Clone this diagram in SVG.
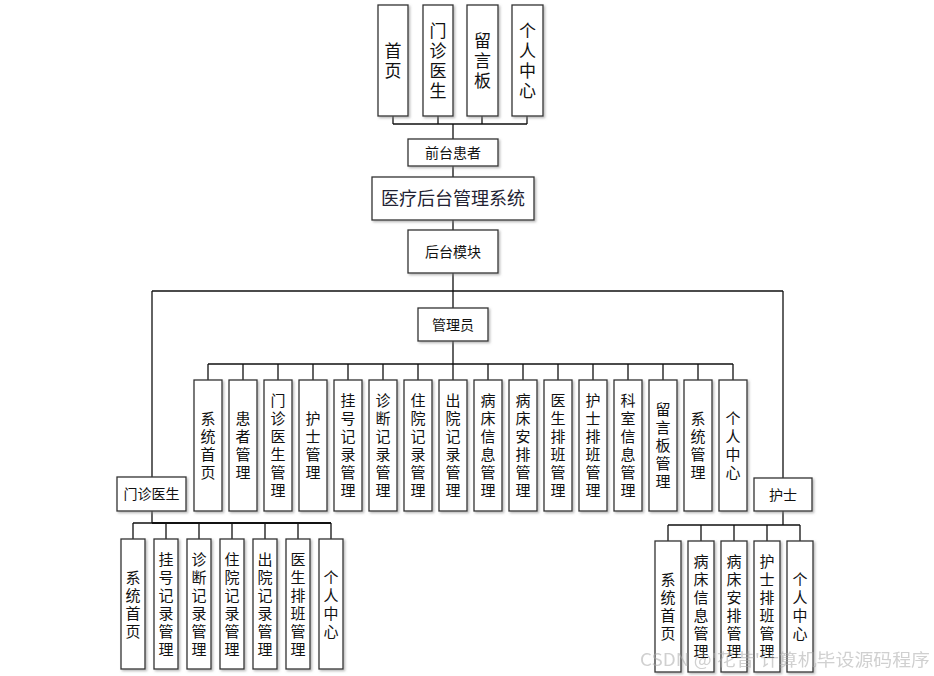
<svg xmlns="http://www.w3.org/2000/svg" width="934" height="676" viewBox="0 0 934 676">
<defs>
<filter id="sh" x="-20%" y="-20%" width="140%" height="140%">
<feDropShadow dx="1.5" dy="1.5" stdDeviation="0.8" flood-color="#888" flood-opacity="0.6"/>
</filter>
</defs>
<style>
.b{fill:#fff;stroke:#333;stroke-width:1.3;filter:url(#sh)}
.t{font-family:"Noto Sans CJK SC","Noto Sans",sans-serif;fill:#111;text-anchor:middle}
.v{font-size:15px;writing-mode:vertical-rl;text-orientation:upright;letter-spacing:3px}
.tv{font-size:17px;writing-mode:vertical-rl;text-orientation:upright;letter-spacing:3px}
.h{font-size:14px}
.c{fill:none;stroke:#111;stroke-width:1.3}
.wm{font-family:"Noto Sans CJK SC","Noto Sans",sans-serif;font-size:17px;fill:#aaa;opacity:0.55}
</style>
<rect width="934" height="676" fill="#fff"/>
<g id="connectors" class="c">
<path d="M393 116V124M438 116V124M482 116V124M527 116V124M393 124H527M453 124V139"/>
<path d="M453 166V177M453 220V230M453 273V308M152 291H783"/>
<path d="M453 341V364M208 364H733"/>
<path d="M208 364V380M243 364V380M278 364V380M313 364V380M348 364V380M383 364V380M418 364V380M453 364V380M488 364V380M523 364V380M558 364V380M593 364V380M628 364V380M663 364V380M698 364V380M733 364V380"/>
<path d="M152 291V477M152 511V523M133 523H331M133 523V539M166 523V539M199 523V539M232 523V539M265 523V539M298 523V539M331 523V539"/>
<path d="M152 523H331" stroke-width="2.2"/>
<path d="M783 291V478M783 511V525M668 525H800M668 525V541M701 525V541M734 525V541M767 525V541M800 525V541"/>
</g>
<g id="n-home"><rect class="b" x="378" y="5" width="30" height="111"/><text class="t tv" x="393" y="62">首页</text></g>
<g id="n-doctor-top"><rect class="b" x="423" y="5" width="30" height="111"/><text class="t tv" x="438" y="62">门诊医生</text></g>
<g id="n-board"><rect class="b" x="467" y="5" width="31" height="111"/><text class="t tv" x="482.5" y="62">留言板</text></g>
<g id="n-center"><rect class="b" x="512" y="5" width="31" height="111"/><text class="t tv" x="527.5" y="62">个人中心</text></g>
<g id="n-front"><rect class="b" x="408" y="139" width="90" height="27"/><text class="t h" x="453" y="158">前台患者</text></g>
<g id="n-system"><rect class="b" x="372" y="177" width="162" height="43"/><text class="t" style="font-size:18px;fill:#223" x="453" y="205">医疗后台管理系统</text></g>
<g id="n-backend"><rect class="b" x="408" y="230" width="90" height="43"/><text class="t h" x="453" y="257">后台模块</text></g>
<g id="n-admin"><rect class="b" x="418" y="308" width="70" height="33"/><text class="t h" x="453" y="330">管理员</text></g>
<g id="a1"><rect class="b" x="194" y="380" width="28" height="131"/><text class="t v" x="208" y="447">系统首页</text></g>
<g id="a2"><rect class="b" x="229" y="380" width="28" height="131"/><text class="t v" x="243" y="447">患者管理</text></g>
<g id="a3"><rect class="b" x="264" y="380" width="28" height="131"/><text class="t v" x="278" y="447">门诊医生管理</text></g>
<g id="a4"><rect class="b" x="299" y="380" width="28" height="131"/><text class="t v" x="313" y="447">护士管理</text></g>
<g id="a5"><rect class="b" x="334" y="380" width="28" height="131"/><text class="t v" x="348" y="447">挂号记录管理</text></g>
<g id="a6"><rect class="b" x="369" y="380" width="28" height="131"/><text class="t v" x="383" y="447">诊断记录管理</text></g>
<g id="a7"><rect class="b" x="404" y="380" width="28" height="131"/><text class="t v" x="418" y="447">住院记录管理</text></g>
<g id="a8"><rect class="b" x="439" y="380" width="28" height="131"/><text class="t v" x="453" y="447">出院记录管理</text></g>
<g id="a9"><rect class="b" x="474" y="380" width="28" height="131"/><text class="t v" x="488" y="447">病床信息管理</text></g>
<g id="a10"><rect class="b" x="509" y="380" width="28" height="131"/><text class="t v" x="523" y="447">病床安排管理</text></g>
<g id="a11"><rect class="b" x="544" y="380" width="28" height="131"/><text class="t v" x="558" y="447">医生排班管理</text></g>
<g id="a12"><rect class="b" x="579" y="380" width="28" height="131"/><text class="t v" x="593" y="447">护士排班管理</text></g>
<g id="a13"><rect class="b" x="614" y="380" width="28" height="131"/><text class="t v" x="628" y="447">科室信息管理</text></g>
<g id="a14"><rect class="b" x="649" y="380" width="28" height="131"/><text class="t v" x="663" y="447">留言板管理</text></g>
<g id="a15"><rect class="b" x="684" y="380" width="28" height="131"/><text class="t v" x="698" y="447">系统管理</text></g>
<g id="a16"><rect class="b" x="719" y="380" width="28" height="131"/><text class="t v" x="733" y="447">个人中心</text></g>
<g id="n-doctor"><rect class="b" x="117" y="477" width="69" height="34"/><text class="t h" x="151.5" y="499">门诊医生</text></g>
<g id="d1"><rect class="b" x="121" y="539" width="24" height="130"/><text class="t v" x="133" y="605.5">系统首页</text></g>
<g id="d2"><rect class="b" x="154" y="539" width="24" height="130"/><text class="t v" x="166" y="605.5">挂号记录管理</text></g>
<g id="d3"><rect class="b" x="187" y="539" width="24" height="130"/><text class="t v" x="199" y="605.5">诊断记录管理</text></g>
<g id="d4"><rect class="b" x="220" y="539" width="24" height="130"/><text class="t v" x="232" y="605.5">住院记录管理</text></g>
<g id="d5"><rect class="b" x="253" y="539" width="24" height="130"/><text class="t v" x="265" y="605.5">出院记录管理</text></g>
<g id="d6"><rect class="b" x="286" y="539" width="24" height="130"/><text class="t v" x="298" y="605.5">医生排班管理</text></g>
<g id="d7"><rect class="b" x="319" y="539" width="24" height="130"/><text class="t v" x="331" y="605.5">个人中心</text></g>
<g id="n-nurse"><rect class="b" x="754" y="478" width="58" height="33"/><text class="t h" x="783" y="500">护士</text></g>
<g id="s1"><rect class="b" x="655" y="541" width="26" height="131"/><text class="t v" x="668" y="608">系统首页</text></g>
<g id="s2"><rect class="b" x="688" y="541" width="26" height="131"/><text class="t v" x="701" y="608">病床信息管理</text></g>
<g id="s3"><rect class="b" x="721" y="541" width="26" height="131"/><text class="t v" x="734" y="608">病床安排管理</text></g>
<g id="s4"><rect class="b" x="754" y="541" width="26" height="131"/><text class="t v" x="767" y="608">护士排班管理</text></g>
<g id="s5"><rect class="b" x="787" y="541" width="26" height="131"/><text class="t v" x="800" y="608">个人中心</text></g>
<text class="wm" x="640" y="666" textLength="290" lengthAdjust="spacingAndGlyphs">CSDN @'花昔'计算机毕设源码程序</text>
</svg>
